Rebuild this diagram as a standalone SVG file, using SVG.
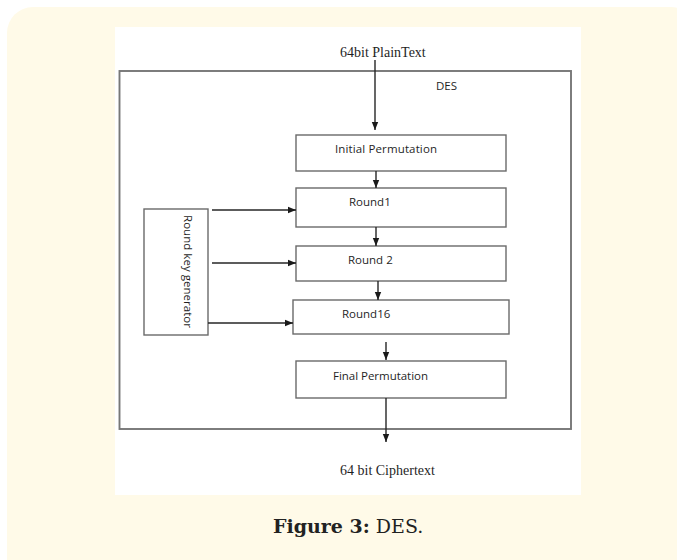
<svg xmlns="http://www.w3.org/2000/svg" width="677" height="560" viewBox="0 0 677 560">
  <style>
    .box { fill: #ffffff; stroke: #6a6a6a; stroke-width: 1.4; }
    .frame { fill: none; stroke: #777777; stroke-width: 1.9; }
    .wire { fill: none; stroke: #262626; stroke-width: 1.4; marker-end: url(#head); }
    .lbl { font-family: "Open Sans", "Liberation Sans", sans-serif; font-size: 11.5px; fill: #1f1f1f; }
    .io { font-family: "Liberation Serif", serif; font-size: 14px; fill: #1f1f1f; }
    .cap { font-family: "DejaVu Serif", "Liberation Serif", serif; font-size: 19px; fill: #222; }
  </style>
  <defs>
    <marker id="head" viewBox="0 0 8 8" refX="8" refY="4" markerWidth="8" markerHeight="8" markerUnits="userSpaceOnUse" orient="auto">
      <path d="M0,0.8 L8,4 L0,7.2 Z" fill="#1a1a1a"/>
    </marker>
  </defs>

  <!-- card background and figure panel -->
  <rect x="7" y="7" width="690" height="580" rx="26" fill="#fffae8"/>
  <rect x="115" y="27" width="466" height="468" fill="#ffffff"/>

  <!-- DES boundary -->
  <g id="des">
    <rect class="frame" x="119.5" y="71" width="451.5" height="358"/>
    <text class="lbl" x="436" y="90">DES</text>
  </g>

  <g id="plaintext">
    <text class="io" x="340" y="57">64bit PlainText</text>
  </g>

  <g id="initial-permutation">
    <rect class="box" x="296" y="135" width="210" height="36"/>
    <text class="lbl" x="335" y="153" textLength="102">Initial Permutation</text>
  </g>

  <g id="round1">
    <rect class="box" x="296" y="188" width="210" height="39"/>
    <text class="lbl" x="349" y="206">Round1</text>
  </g>

  <g id="round2">
    <rect class="box" x="296" y="246" width="210" height="35"/>
    <text class="lbl" x="348" y="264">Round 2</text>
  </g>

  <g id="round16">
    <rect class="box" x="293" y="300" width="216" height="34"/>
    <text class="lbl" x="342" y="318">Round16</text>
  </g>

  <g id="final-permutation">
    <rect class="box" x="296" y="361" width="210" height="37"/>
    <text class="lbl" x="333" y="380" textLength="95">Final Permutation</text>
  </g>

  <g id="key-generator">
    <rect class="box" x="144" y="209" width="64" height="126"/>
    <text class="lbl" transform="translate(183.5,215) rotate(90)" textLength="113">Round key generator</text>
  </g>

  <g id="ciphertext">
    <text class="io" x="340" y="475">64 bit Ciphertext</text>
  </g>

  <g id="connectors">
    <line class="wire" x1="375" y1="60" x2="375" y2="130"/>
    <line class="wire" x1="376" y1="171" x2="376" y2="188"/>
    <line class="wire" x1="376" y1="227" x2="376" y2="246"/>
    <line class="wire" x1="378" y1="281" x2="378" y2="300"/>
    <line class="wire" x1="386" y1="342" x2="386" y2="360"/>
    <line class="wire" x1="386" y1="398" x2="386" y2="442"/>
    <line class="wire" x1="212" y1="210" x2="296" y2="210"/>
    <line class="wire" x1="212" y1="263" x2="296" y2="263"/>
    <line class="wire" x1="208" y1="323" x2="293" y2="323"/>
  </g>

  <!-- caption -->
  <text class="cap" x="273" y="533"><tspan font-weight="bold">Figure 3:</tspan> DES.</text>
</svg>
